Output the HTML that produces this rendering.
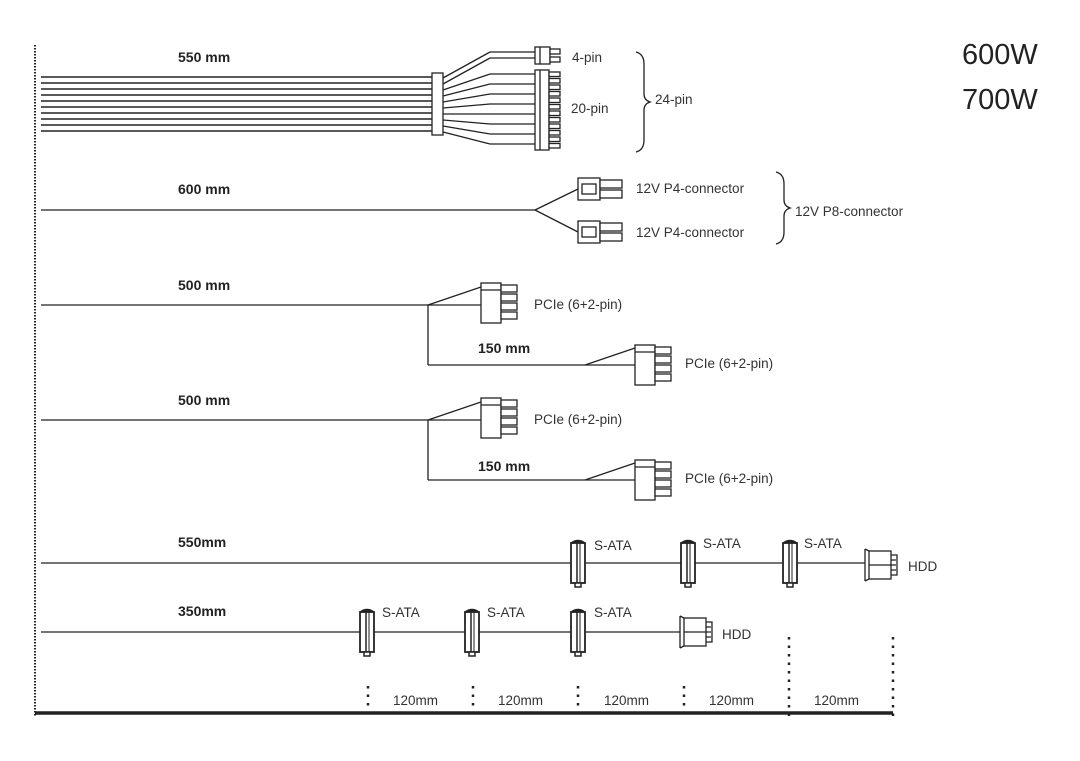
<!DOCTYPE html>
<html><head><meta charset="utf-8"><style>
html,body{margin:0;padding:0;background:#fff;}
svg{display:block;font-family:"Liberation Sans",Arial,sans-serif;}
.b{font-weight:bold;font-size:14px;fill:#222}
.l{font-size:13.5px;fill:#333}
</style></head><body>
<svg id="s" width="1080" height="761" viewBox="0 0 1080 761" xmlns="http://www.w3.org/2000/svg">
<rect width="1080" height="761" fill="#fff"/>
<g stroke="#222" fill="none" stroke-width="1.3" id="g">
<line x1="35" y1="45" x2="35" y2="716" stroke-width="2" stroke-dasharray="1.5 1.5"/>
<line x1="35" y1="713" x2="893" y2="713" stroke-width="3.5"/>
</g>
<text x="178" y="62" class="b">550 mm</text>
<text x="178" y="194" class="b">600 mm</text>
<text x="178" y="290" class="b">500 mm</text>
<text x="178" y="405" class="b">500 mm</text>
<text x="478" y="353" class="b">150 mm</text>
<text x="478" y="471" class="b">150 mm</text>
<text x="178" y="547" class="b">550mm</text>
<text x="178" y="616" class="b">350mm</text>
<text x="572" y="62" class="l">4-pin</text>
<text x="571" y="113" class="l">20-pin</text>
<text x="655" y="104" class="l">24-pin</text>
<text x="636" y="193" class="l">12V P4-connector</text>
<text x="636" y="237" class="l">12V P4-connector</text>
<text x="795" y="216" class="l">12V P8-connector</text>
<text x="534" y="309" class="l">PCIe (6+2-pin)</text>
<text x="685" y="368" class="l">PCIe (6+2-pin)</text>
<text x="534" y="424" class="l">PCIe (6+2-pin)</text>
<text x="685" y="483" class="l">PCIe (6+2-pin)</text>
<text x="594" y="550" class="l">S-ATA</text>
<text x="703" y="548" class="l">S-ATA</text>
<text x="804" y="548" class="l">S-ATA</text>
<text x="908" y="571" class="l">HDD</text>
<text x="382" y="617" class="l">S-ATA</text>
<text x="487" y="617" class="l">S-ATA</text>
<text x="594" y="617" class="l">S-ATA</text>
<text x="722" y="639" class="l">HDD</text>
<text x="393" y="705" class="l">120mm</text>
<text x="498" y="705" class="l">120mm</text>
<text x="604" y="705" class="l">120mm</text>
<text x="709" y="705" class="l">120mm</text>
<text x="814" y="705" class="l">120mm</text>
<text x="962" y="64" style="font-size:29px;fill:#222">600W</text>
<text x="962" y="109" style="font-size:29px;fill:#222">700W</text>
</svg>
<script>
var g=document.getElementById('g'),h='';
function L(a,b,c,d,w){h+='<line x1="'+a+'" y1="'+b+'" x2="'+c+'" y2="'+d+'"'+(w?' stroke-width="'+w+'"':'')+'/>';}
function R(x,y,w,hh,sw){h+='<rect x="'+x+'" y="'+y+'" width="'+w+'" height="'+hh+'" fill="#fff"'+(sw?' stroke-width="'+sw+'"':'')+'/>';}
function P(d,sw){h+='<path d="'+d+'"'+(sw?' stroke-width="'+sw+'"':'')+'/>';}
for(var i=0;i<10;i++){var y=77+i*6;L(41,y,432,y,1.6);}
L(443,78,490,52);L(490,52,535,52);L(443,84,490,58);L(490,58,535,58);
for(var i=0;i<8;i++){var y0=90+i*6,y1=74+i*10;L(443,y0,490,y1);L(490,y1,535,y1);}
R(432,73,11,62);
R(535,47,15,17);L(540,47,540,64);
R(550,49,10,5);R(550,57,10,5);
R(535,70,14,80);L(540,70,540,150);
for(var i=0;i<12;i++)R(549,72+i*6.5,11,4.5);
P('M636,52 q8,2 8,12 v30 q0,6 6,8 q-6,2 -6,8 v30 q0,10 -8,12');
L(41,210,535,210);L(535,210,578,189);L(535,210,578,232);
R(578,178,22,22);R(582,184,14,10);R(600,180,22,8);R(600,190,22,8);
R(578,221,22,22);R(582,227,14,10);R(600,223,22,8);R(600,233,22,8);
P('M776,172 q8,2 8,12 v16 q0,6 6,8 q-6,2 -6,8 v16 q0,10 -8,12');
function pc(x,y){R(x,y,20,40);L(x,y+7,x+20,y+7);for(var i=0;i<4;i++)R(x+20,y+2+i*9,16,7);}
function row(y){L(41,y,428,y);L(428,y,481,y-18);L(428,y,481,y);pc(481,y-22);
L(428,y,428,y+60);L(428,y+60,585,y+60);L(585,y+60,635,y+43);L(585,y+60,635,y+60);pc(635,y+40);}
row(305);row(420);
function sata(x,y){R(x-7,y-20,14,40,1.8);L(x-1,y-20,x-1,y+20,1.5);L(x+2,y-20,x+2,y+20,1);P('M'+(x-6)+','+(y-20)+' q6,-4 12,0',2.5);R(x-3,y+20,6,4,1.5);}
function hdd(x,y){R(x+4,y-14,22,28);L(x+4,y,x+26,y);P('M'+x+','+(y-16)+' l4,2 M'+x+','+(y+16)+' l4,-2 M'+x+','+(y-16)+' v32');
P('M'+(x+26)+','+(y-10)+' h6 v20 h-6 M'+(x+26)+','+(y-5)+' h5 M'+(x+26)+','+y+' h5 M'+(x+26)+','+(y+5)+' h5');}
L(41,563,865,563);[578,688,790].forEach(function(x){sata(x,563);});hdd(865,565);
L(41,632,680,632);[367,472,578].forEach(function(x){sata(x,632);});hdd(680,632);
[368,473,578,684].forEach(function(x){L(x,686,x,720,2.5);});
[789,893].forEach(function(x){L(x,637,x,720,2.5);});
g.innerHTML+=h;
g.querySelectorAll('line[stroke-width="2.5"]').forEach(function(e){e.setAttribute('stroke-dasharray','2.5 6');});
</script>
</body></html>
